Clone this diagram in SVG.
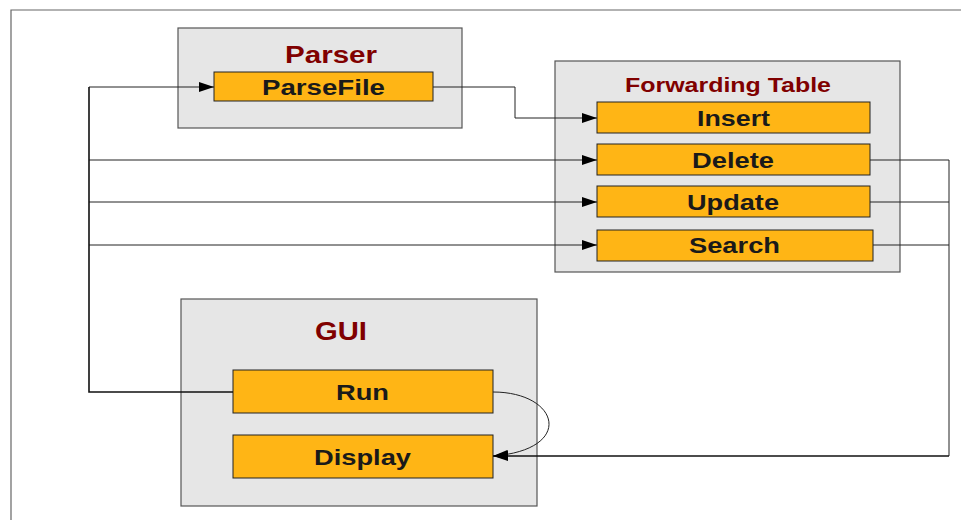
<svg xmlns="http://www.w3.org/2000/svg" width="961" height="520" viewBox="0 0 961 520">
<defs>
<style>
.cont{fill:#e6e6e6;stroke:#555;stroke-width:1.2}
.fn{fill:#ffb515;stroke:#222;stroke-width:1}
.t{font-family:"Liberation Sans",Arial,sans-serif;font-weight:bold;text-anchor:middle}
.title{fill:#800000}
.lbl{fill:#1a1a1a;font-size:22px}
.c{fill:none;stroke:#222;stroke-width:1}
.ct{fill:none;stroke:#111;stroke-width:1.6}
</style>
<marker id="arr" markerWidth="15" markerHeight="10" refX="15" refY="5" orient="auto" markerUnits="userSpaceOnUse">
<path d="M0,0 L15,5 L0,10 Z" fill="#000"/>
</marker>
</defs>
<rect width="961" height="520" fill="#fff"/>
<path d="M11,520 V10 H961" fill="none" stroke="#666" stroke-width="1.2"/>

<g id="parser">
<rect class="cont" x="178" y="28" width="284" height="100"/>
<text class="t title" x="331" y="63" font-size="24" textLength="92" lengthAdjust="spacingAndGlyphs">Parser</text>
</g>
<g id="parsefile">
<rect class="fn" x="214" y="72" width="219" height="29"/>
<text class="t lbl" x="323.5" y="95" textLength="123" lengthAdjust="spacingAndGlyphs">ParseFile</text>
</g>

<g id="forwarding-table">
<rect class="cont" x="555" y="61" width="345" height="211"/>
<text class="t title" x="728" y="92" font-size="20" textLength="206" lengthAdjust="spacingAndGlyphs">Forwarding Table</text>
</g>
<g id="insert">
<rect class="fn" x="597" y="102" width="273" height="31"/>
<text class="t lbl" x="733.5" y="126" textLength="73" lengthAdjust="spacingAndGlyphs">Insert</text>
</g>
<g id="delete">
<rect class="fn" x="597" y="144" width="273" height="31"/>
<text class="t lbl" x="733" y="168" textLength="82" lengthAdjust="spacingAndGlyphs">Delete</text>
</g>
<g id="update">
<rect class="fn" x="597" y="186" width="273" height="31"/>
<text class="t lbl" x="733" y="210" textLength="92" lengthAdjust="spacingAndGlyphs">Update</text>
</g>
<g id="search">
<rect class="fn" x="597" y="230" width="276" height="31"/>
<text class="t lbl" x="734.5" y="253" textLength="91" lengthAdjust="spacingAndGlyphs">Search</text>
</g>

<g id="gui">
<rect class="cont" x="181" y="299" width="356" height="207"/>
<text class="t title" x="341" y="340" font-size="25" textLength="52" lengthAdjust="spacingAndGlyphs">GUI</text>
</g>
<g id="run">
<rect class="fn" x="233" y="370" width="260" height="43"/>
<text class="t lbl" x="362.5" y="400" textLength="53" lengthAdjust="spacingAndGlyphs">Run</text>
</g>
<g id="display">
<rect class="fn" x="233" y="435" width="260" height="43"/>
<text class="t lbl" x="362.5" y="465" textLength="97" lengthAdjust="spacingAndGlyphs">Display</text>
</g>

<g id="connectors">
<path class="c" d="M433,87 H515 V118 H597" marker-end="url(#arr)"/>
<path class="c" d="M89,87 H214" marker-end="url(#arr)"/>
<path class="c" d="M89,160 H597" marker-end="url(#arr)"/>
<path class="c" d="M89,202 H597" marker-end="url(#arr)"/>
<path class="c" d="M89,245 H597" marker-end="url(#arr)"/>
<path class="ct" d="M233,392 H89 V87"/>
<path class="c" d="M870,160 H949 V456"/>
<path class="c" d="M870,202 H949"/>
<path class="c" d="M873,245 H949"/>
<path class="ct" d="M949,456 H493" marker-end="url(#arr)"/>
<path class="c" d="M493,392 C560,392 575,450 493,456" marker-end="url(#arr)"/>
</g>
</svg>
